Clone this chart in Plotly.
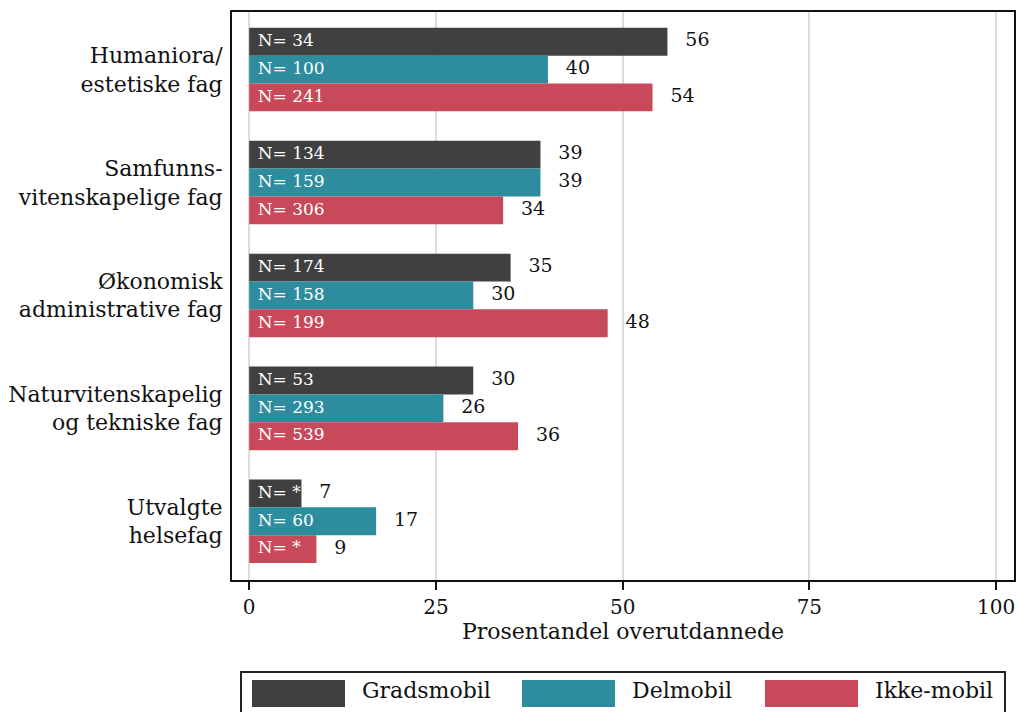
import plotly.graph_objects as go

categories = ["Humaniora/<br>estetiske fag", "Samfunns-<br>vitenskapelige fag",
              "Økonomisk<br>administrative fag", "Naturvitenskapelig<br>og tekniske fag",
              "Utvalgte<br>helsefag"]
series_names = ["Gradsmobil", "Delmobil", "Ikke-mobil"]
gradsmobil = [56, 39, 35, 30, 7]
delmobil = [40, 39, 30, 26, 17]
ikke_mobil = [54, 34, 48, 36, 9]
n_gradsmobil = ["34", "134", "174", "53", "*"]
n_delmobil = ["100", "159", "158", "293", "60"]
n_ikke_mobil = ["241", "306", "199", "539", "*"]
x_ticks = [0, 25, 50, 75, 100]
colors = ["#404040", "#2d8c9e", "#c84a5a"]

values = [gradsmobil, delmobil, ikke_mobil]
ns = [n_gradsmobil, n_delmobil, n_ikke_mobil]
FONT = "DejaVu Serif"

fig = go.Figure()
for i, name in enumerate(series_names):
    fig.add_trace(go.Bar(
        y=categories, x=values[i], orientation="h", name=name,
        marker=dict(color=colors[i], line=dict(width=0)),
        offsetgroup=str(i), showlegend=False, hoverinfo="skip"))
for i, name in enumerate(series_names):
    # N labels inside bars, near the start
    fig.add_trace(go.Scatter(
        y=categories, x=[0] * len(categories), mode="markers+text", orientation="h",
        text=["N= " + n for n in ns[i]], textposition="middle right",
        textfont=dict(family=FONT, size=17, color="white"),
        marker=dict(size=12, opacity=0), offsetgroup=str(i),
        showlegend=False, hoverinfo="skip", cliponaxis=False))
    # value labels outside bars
    fig.add_trace(go.Scatter(
        y=categories, x=values[i], mode="markers+text", orientation="h",
        text=[str(v) for v in values[i]], textposition="middle right",
        textfont=dict(family=FONT, size=19, color="#111111"),
        marker=dict(size=27, opacity=0), offsetgroup=str(i),
        showlegend=False, hoverinfo="skip", cliponaxis=False))

# manual legend (wide swatches) in paper coordinates
W, H = 1020, 712
L, R, T, B = 232, 6, 12, 132
pw, ph = W - L - R, H - T - B
def px(x):
    return (x - L) / pw
def py(y):
    return (H - B - y) / ph

shapes = [dict(type="rect", xref="paper", yref="paper",
               x0=px(241), x1=px(1005), y0=py(716), y1=py(672),
               line=dict(color="#222222", width=2), fillcolor="rgba(0,0,0,0)")]
annotations = []
sw_x = [252, 522, 765]
for i, name in enumerate(series_names):
    shapes.append(dict(type="rect", xref="paper", yref="paper",
                       x0=px(sw_x[i]), x1=px(sw_x[i] + 93), y0=py(707), y1=py(680),
                       line=dict(width=0), fillcolor=colors[i]))
    annotations.append(dict(xref="paper", yref="paper", x=px(sw_x[i] + 108), y=py(690),
                            text=name, showarrow=False, xanchor="left", yanchor="middle",
                            font=dict(family=FONT, size=22, color="#111111")))

fig.update_layout(
    width=W, height=H,
    margin=dict(l=L, r=R, t=T, b=B, pad=0),
    barmode="group", scattermode="group", bargap=0.26, bargroupgap=0,
    plot_bgcolor="white", paper_bgcolor="white",
    font=dict(family=FONT, color="#111111"),
    shapes=shapes, annotations=annotations, showlegend=False,
)
fig.update_xaxes(
    range=[-2.3, 102.4], tickvals=x_ticks, ticktext=[str(t) for t in x_ticks],
    showgrid=True, gridcolor="#dcdcdc", gridwidth=2, zeroline=False,
    showline=True, linecolor="#111111", linewidth=2, mirror=True,
    ticks="outside", ticklen=8, tickwidth=2, tickcolor="#111111",
    tickfont=dict(family=FONT, size=20, color="#111111"), automargin=False,
    title=dict(text="Prosentandel overutdannede", standoff=5,
               font=dict(family=FONT, size=22, color="#111111")),
)
fig.update_yaxes(
    autorange=False, range=[4.52, -0.51], type="category",
    showgrid=False, zeroline=False, automargin=False,
    showline=True, linecolor="#111111", linewidth=2, mirror=True,
    ticks="", ticklabelstandoff=3,
    tickfont=dict(family=FONT, size=22, color="#111111"),
)
fig.write_html("out.html", config={"displayModeBar": False},
               post_script="document.body.style.margin='0px';")
